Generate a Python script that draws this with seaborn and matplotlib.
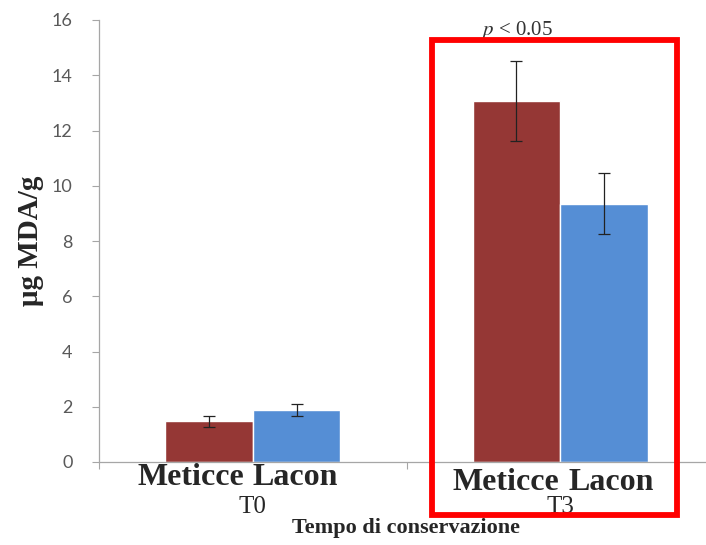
import pandas as pd
import seaborn as sns
import matplotlib.pyplot as plt
from matplotlib.patches import Rectangle
from matplotlib.transforms import offset_copy

# values
times = ['T0', 'T3']
breeds = ['Meticce', 'Lacon']
meticce = [1.48, 13.08]
lacon = [1.88, 9.35]
meticce_err = [0.20, 1.45]
lacon_err = [0.22, 1.10]

df = pd.DataFrame({
    'time': times * 2,
    'breed': [breeds[0]] * 2 + [breeds[1]] * 2,
    'mda': meticce + lacon,
    'err': meticce_err + lacon_err,
})

sns.set_style('white')
plt.rcParams['mathtext.fontset'] = 'stix'
serif = ['Liberation Serif', 'DejaVu Serif']

fig = plt.figure(figsize=(7.06, 5.45), dpi=100)
ax = fig.add_axes([99 / 706, 83 / 545, 615 / 706, 442 / 545])

sns.barplot(data=df, x='time', y='mda', hue='breed', order=times,
            hue_order=breeds, palette=['#953735', '#558ED5'],
            width=0.57, saturation=1, errorbar=None, legend=False, ax=ax)

# error bars from the bar patches
bars = [p for p in ax.patches if p.get_height() > 0]
for i, p in enumerate(bars):
    xc = p.get_x() + p.get_width() / 2
    ax.errorbar(xc, p.get_height(), yerr=df.loc[i, 'err'], color='#222222',
                lw=0.9, capsize=4, capthick=0.9)

# breed names under each group, split around the group centre
for t in range(len(times)):
    ylab = -0.05 - 0.18 * t
    shift = 8 * t
    for b, (ha, dx) in enumerate([('right', -9), ('left', 0)]):
        tr = offset_copy(ax.transData, fig=fig, x=dx + shift, y=0,
                         units='dots')
        ax.text(t, ylab, breeds[b], ha=ha, va='top', transform=tr,
                fontsize=23, fontweight='bold', family=serif)

ax.set_xlim(-0.5, 1.5)
ax.set_ylim(0, 16)
ax.set_yticks(range(0, 17, 2))
ax.tick_params(axis='y', direction='out', length=5, width=0.8, color='#a6a6a6',
               labelsize=13, labelcolor='#595959', pad=14, left=True)
for lab in ax.get_yticklabels():
    lab.set_family(['Lato', 'DejaVu Sans'])

ax.set_xticks([0, 1])
ax.set_xticklabels(times, family=serif, fontsize=18)
ax.tick_params(axis='x', length=0, pad=24.5)
ax.set_xticks([-0.5, 0.5, 1.5], minor=True)
ax.tick_params(axis='x', which='minor', direction='out', length=5,
               width=0.8, color='#a6a6a6', bottom=True)

for s in ['top', 'right']:
    ax.spines[s].set_visible(False)
for s in ['left', 'bottom']:
    ax.spines[s].set_color('#a6a6a6')
    ax.spines[s].set_linewidth(0.9)

ax.set_ylabel('μg MDA/g', family=serif, fontsize=21, fontweight='bold')
ax.yaxis.set_label_coords(-0.09, 0.5)
ax.set_xlabel('Tempo di conservazione', family=serif, fontsize=16,
              fontweight='bold', labelpad=0)

ax.text(0.86, 15.45, r'$p$ < 0.05', ha='center', va='baseline', fontsize=15,
        family=serif, color='#333333')

# red highlight box around T3
fig.patches.append(Rectangle((432 / 706, 1 - 515 / 545), 245 / 706,
                             475 / 545, transform=fig.transFigure,
                             fill=False, edgecolor='red', lw=4.2))

plt.savefig('out.png', dpi=100)
plt.close()
